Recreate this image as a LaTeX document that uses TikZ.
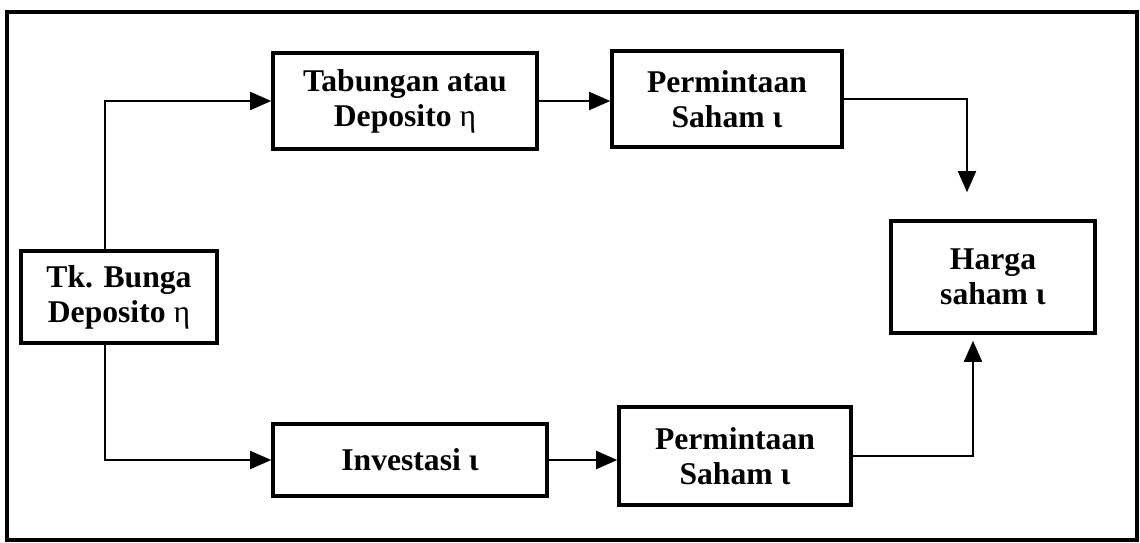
\documentclass[tikz,border=0pt]{standalone}
\usepackage{fontspec}
\setmainfont{Liberation Serif}
\usetikzlibrary{arrows.meta}

\tikzstyle{block} = [draw=black, line width=2pt, align=center, inner sep=2pt, font={\fontsize{18}{20}\selectfont\bfseries}]
\tikzstyle{conn} = [line width=1pt, -{Triangle[length=0.42cm,width=0.36cm]}]
\tikzstyle{frame} = [line width=2pt]

\begin{document}
\begin{tikzpicture}
\useasboundingbox (0,0) rectangle (22.8,-10.86);
\draw [frame] (0.14,-0.24) rectangle (22.74,-10.80);

\node [block, minimum width=3.92cm, minimum height=1.84cm] (tk) at (2.38,-5.94) {Tk. Bunga\\Deposito {\mdseries η}};
\node [block, minimum width=5.28cm, minimum height=1.92cm] (tab) at (8.10,-2.02) {Tabungan atau\\Deposito {\mdseries η}};
\node [block, minimum width=4.60cm, minimum height=1.92cm] (pmt1) at (14.54,-1.98) {Permintaan\\Saham ι};
\node [block, minimum width=4.08cm, minimum height=2.24cm] (harga) at (19.86,-5.54) {Harga\\saham ι};
\node [block, minimum width=5.48cm, minimum height=1.44cm] (inv) at (8.20,-9.20) {Investasi ι};
\node [block, minimum width=4.64cm, minimum height=1.96cm] (pmt2) at (14.70,-9.12) {Permintaan\\Saham ι};

\draw [conn] ([xshift=-0.28cm]tk.north) |- (tab.west);
\draw [conn] (tab.east) -- (tab.east -| pmt1.west);
\draw [conn] (pmt1.east) -| ([xshift=-0.52cm,yshift=0.54cm]harga.north);
\draw [conn] ([xshift=-0.28cm]tk.south) |- (inv.west);
\draw [conn] (inv.east) -- (inv.east -| pmt2.west);
\draw [conn] (pmt2.east) -| ([xshift=-0.40cm,yshift=-0.12cm]harga.south);
\end{tikzpicture}
\end{document}
